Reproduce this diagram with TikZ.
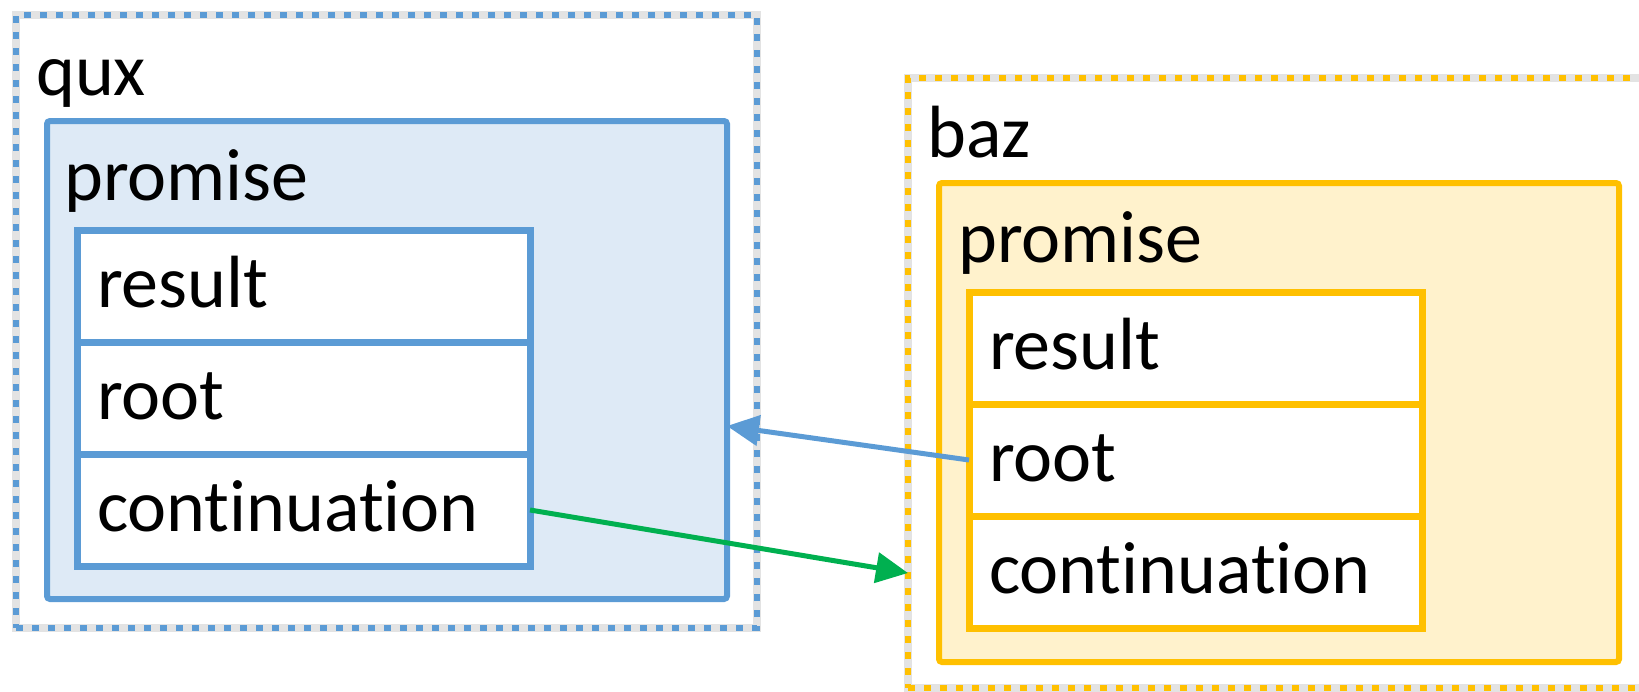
\documentclass[tikz,border=0pt]{standalone}
\usepackage{fontspec}
\setmainfont{Carlito}[Ligatures=NoCommon]
\usetikzlibrary{positioning,arrows.meta}

\definecolor{quxblue}{HTML}{5B9BD5}
\definecolor{quxfill}{HTML}{DEEAF6}
\definecolor{bazgold}{HTML}{FFC000}
\definecolor{bazfill}{HTML}{FFF2CC}
\definecolor{contgreen}{HTML}{00B050}

\begin{document}
\begin{tikzpicture}[
  x=1pt,y=-1pt,
  font=\fontsize{74}{89}\selectfont,
  frame/.style={draw,line width=5.5pt,dash pattern=on 7pt off 9pt,anchor=north west,inner sep=0pt,outer sep=0pt,
    preaction={draw=black!11,line width=8pt,solid}},
  prom/.style={draw,line width=6pt,rounded corners=3pt,anchor=north west,inner sep=0pt,outer sep=0pt},
  field/.style={draw,fill=white,line width=7pt,minimum width=453pt,minimum height=112pt,text width=413pt,
    inner xsep=20pt,inner ysep=0pt,outer sep=0pt,align=left,text height=58pt,text depth=15pt},
  qfield/.style={field,draw=quxblue},
  bfield/.style={field,draw=bazgold},
  lbl/.style={anchor=base west,inner sep=0pt},
  link/.style={line width=5pt,-{Triangle[length=32pt,width=30pt]}},
]
\useasboundingbox (0,0) rectangle (1639,691);

% --- qux ---
\node[frame,draw=quxblue,minimum width=741pt,minimum height=613pt] (qFrame) at (16,15) {};
\node[lbl] (qName) at (36,95) {qux};
\node[prom,draw=quxblue,fill=quxfill,minimum width=680pt,minimum height=478pt] (qProm) at (47,121) {};
\node[lbl] (qPromLbl) at (64,200) {promise};
\node[qfield,anchor=north west] (qRes) at (77,230) {result};
\node[qfield,below=0pt of qRes]  (qRoot) {root};
\node[qfield,below=0pt of qRoot] (qCont) {continuation};

% --- baz ---
\node[frame,draw=bazgold,minimum width=752pt,minimum height=610pt] (bFrame) at (908,78) {};
\node[lbl] (bName) at (927,157) {baz};
\node[prom,draw=bazgold,fill=bazfill,minimum width=680pt,minimum height=479pt] (bProm) at (939,183) {};
\node[lbl] (bPromLbl) at (958,262) {promise};
\node[bfield,anchor=north west] (bRes) at (969,292) {result};
\node[bfield,below=0pt of bRes]  (bRoot) {root};
\node[bfield,below=0pt of bRoot] (bCont) {continuation};

% --- arrows ---
\coordinate (qIn) at (727,426);
\coordinate (bIn) at (908,573);
\draw[link,quxblue] (bRoot.west) -- (qIn);
\draw[link,contgreen] (qCont.east) -- (bIn);

\end{tikzpicture}
\end{document}
